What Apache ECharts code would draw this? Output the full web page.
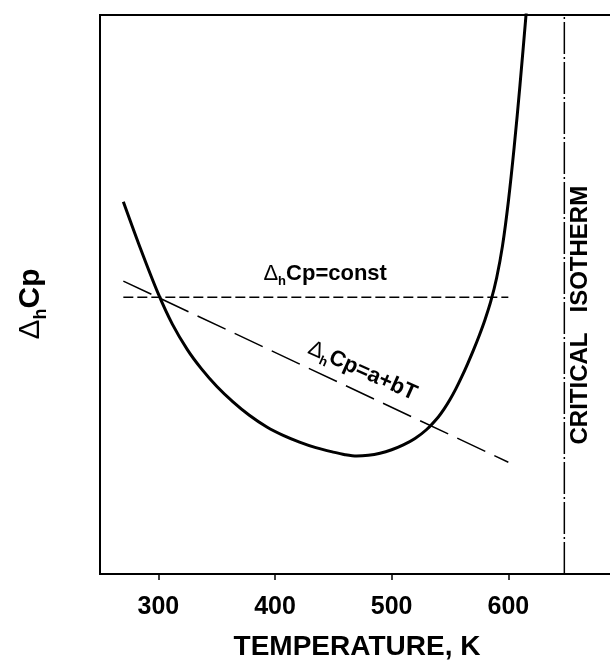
<!DOCTYPE html>
<html><head><meta charset="utf-8">
<script src="https://cdn.jsdelivr.net/npm/echarts@6/dist/echarts.min.js"></script>
<style>html,body{margin:0;padding:0;background:#fff}#c{width:610px;height:664px}</style>
</head><body><div id="c"></div>
<script>
// Data (temperature K, relative ΔhCp units)
const curveT = [270,285,300,312,325,337,350,364,378,393,407,421,435,450,460,470,480,490,500,510,520,530,540,545,550,555,560,565,570,575,580,585,590,595,600,605,610,615,616];
const curveV = [66.6,58.05,50.1,44.7,40.1,36.7,33.6,30.8,28.4,26.3,24.8,23.6,22.6,21.8,21.35,21.1,21.23,21.6,22.23,23.1,24.25,25.85,28.1,29.53,31.2,33.11,35.25,37.56,40.0,42.63,45.5,48.8,53.0,58.7,66.6,76.35,87.5,99.6,102];
const constT = [270, 600];
const constV = [49.5, 49.5];
const linT = [270, 600];
const linV = [52.4, 20.0];
const isoT = [648, 648];
const isoV = [0, 100];
const xTicks = [300, 400, 500, 600];
const xLabels = ['300', '400', '500', '600'];

const FONT = 'Arial, "Liberation Sans", Helvetica, sans-serif';
const zip = (a, b) => a.map((v, i) => [v, b[i]]);

const chart = echarts.init(document.getElementById('c'), null, {renderer: 'canvas'});
chart.setOption({
  animation: false,
  backgroundColor: '#fff',
  grid: {left: 100, top: 15, right: -15, bottom: 90, show: true, borderColor: '#000', borderWidth: 2,
    outerBoundsMode: 'none', containLabel: false},
  xAxis: {
    type: 'value', min: 250, max: 700,
    axisLine: {show: true, lineStyle: {color: '#000', width: 2}},
    axisTick: {show: true, customValues: xTicks, length: 6, lineStyle: {color: '#000', width: 1.5}},
    axisLabel: {show: true, customValues: xTicks, margin: 21, color: '#000', fontSize: 25, fontWeight: 'bold', fontFamily: FONT,
      formatter: v => xLabels[xTicks.indexOf(v)] ?? String(v)},
    splitLine: {show: false}
  },
  yAxis: {
    type: 'value', min: 0, max: 100,
    axisLine: {show: true, lineStyle: {color: '#000', width: 2}},
    axisTick: {show: false}, axisLabel: {show: false}, splitLine: {show: false}
  },
  series: [
    {type: 'line', data: zip(curveT, curveV), showSymbol: false, smooth: 0.3, clip: true,
      lineStyle: {color: '#000', width: 3}},
    {type: 'line', data: zip(constT, constV), showSymbol: false,
      lineStyle: {color: '#000', width: 1.5, type: [10, 4]}},
    {type: 'line', data: zip(linT, linV), showSymbol: false,
      lineStyle: {color: '#000', width: 1.5, type: [31, 10]}},
    {type: 'line', data: zip(isoT, isoV), showSymbol: false,
      lineStyle: {color: '#000', width: 1.5, type: [32, 3, 2, 3]}}
  ]
});

const px = (t, v) => chart.convertToPixel({gridIndex: 0}, [t, v]);
const richLbl = (main, sub, tail) => ({
  main: {fontSize: main, fontWeight: 'normal', fontFamily: FONT, fill: '#000', verticalAlign: 'top', lineHeight: main},
  sub: {fontSize: sub, fontWeight: 'bold', fontFamily: FONT, fill: '#000', verticalAlign: 'top', lineHeight: sub, padding: [tail, 0, 0, 0]},
  b: {fontSize: main, fontWeight: 'bold', fontFamily: FONT, fill: '#000', verticalAlign: 'top', lineHeight: main}
});
const pConst = px(443, 53.7);
const pLin = px(475, 36.3);
const pIso = px(661.5, 46.3);
chart.setOption({
  graphic: [
    {type: 'text', x: 31, y: 304, rotation: Math.PI / 2,
      style: {text: '{main|Δ}{sub|h}{b|Cp}', rich: richLbl(30, 18, 16), align: 'center', verticalAlign: 'middle'}},
    {type: 'text', x: 357, y: 647,
      style: {text: 'TEMPERATURE, K', fontSize: 28, fontWeight: 'bold', fontFamily: FONT, fill: '#000', align: 'center', verticalAlign: 'middle'}},
    {type: 'text', x: pConst[0], y: pConst[1],
      style: {text: '{main|Δ}{sub|h}{b|Cp=const}', rich: richLbl(22, 13, 12), align: 'center', verticalAlign: 'middle'}},
    {type: 'text', x: pLin[0], y: pLin[1], rotation: -24 * Math.PI / 180,
      style: {text: '{main|Δ}{sub|h}{b|Cp=a+bT}', rich: richLbl(22, 13, 12), align: 'center', verticalAlign: 'middle'}},
    {type: 'text', x: pIso[0], y: pIso[1], rotation: Math.PI / 2,
      style: {text: 'CRITICAL   ISOTHERM', fontSize: 24, fontWeight: 'bold', fontFamily: FONT, fill: '#000', align: 'center', verticalAlign: 'middle'}}
  ]
});
</script>
</body></html>
